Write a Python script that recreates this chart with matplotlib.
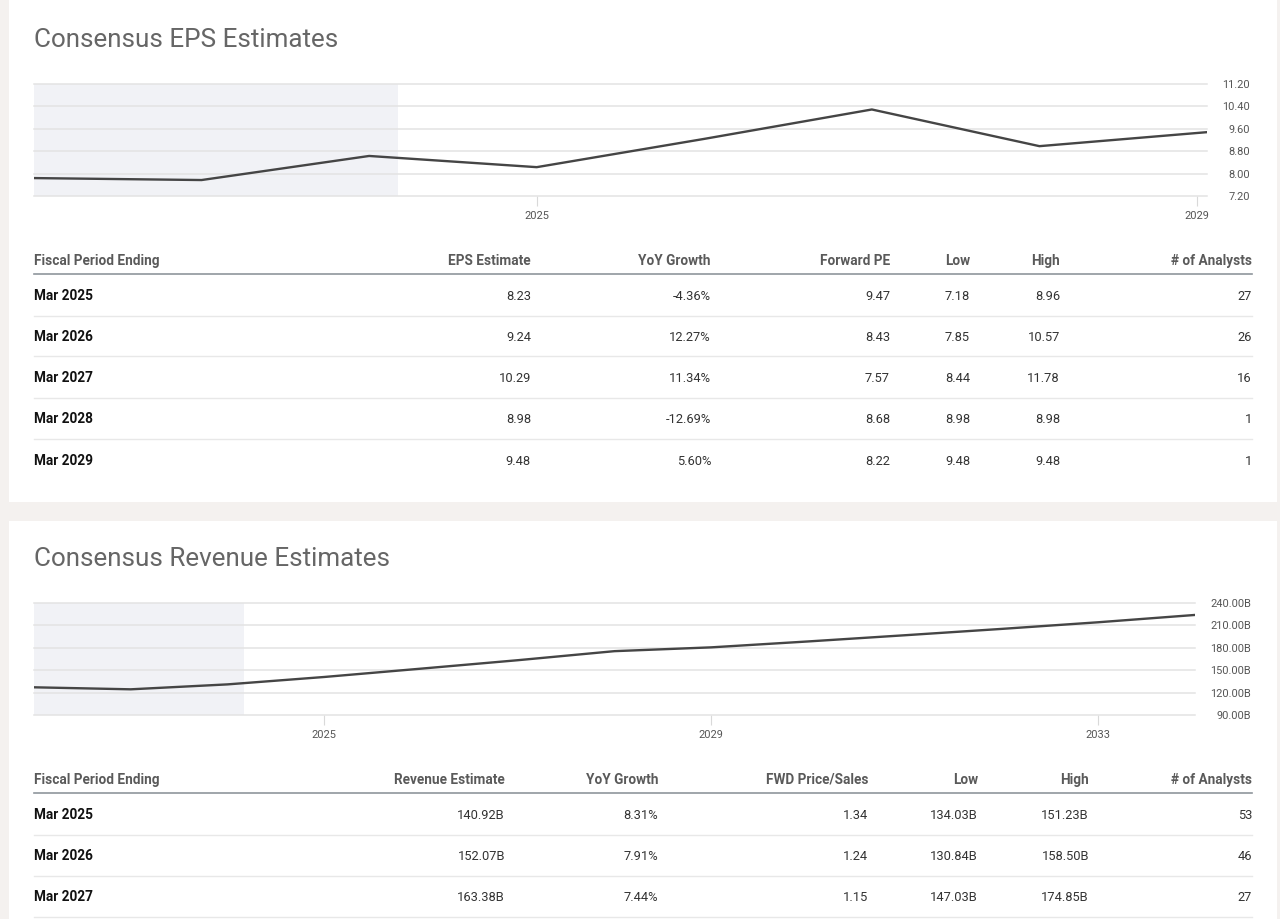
import matplotlib
matplotlib.use('Agg')
import matplotlib.pyplot as plt
from matplotlib.patches import Rectangle
from matplotlib.lines import Line2D

# ---------------- data ----------------
eps_years = [2022, 2023, 2024, 2025, 2026, 2027, 2028, 2029]
eps_values = [7.84, 7.77, 8.63, 8.23, 9.24, 10.29, 8.98, 9.48]
eps_yticks = [7.20, 8.00, 8.80, 9.60, 10.40, 11.20]
eps_ylabels = ["7.20", "8.00", "8.80", "9.60", "10.40", "11.20"]
eps_xticks = [2025, 2028.94]
eps_xlabels = ["2025", "2029"]

rev_years = [2022, 2023, 2024, 2025, 2026, 2027, 2028, 2029, 2030, 2031, 2032, 2033, 2034]
rev_values = [127.1, 124.4, 131.0, 140.92, 152.07, 163.38, 175.5, 180.6, 188.5, 196.8, 205.3, 214.2, 224.0]
rev_yticks = [90, 120, 150, 180, 210, 240]
rev_ylabels = ["90.00B", "120.00B", "150.00B", "180.00B", "210.00B", "240.00B"]
rev_xticks = [2025, 2029, 2033]
rev_xlabels = ["2025", "2029", "2033"]

history_end = 2024.17

eps_headers = ["Fiscal Period Ending", "EPS Estimate", "YoY Growth", "Forward PE", "Low", "High", "# of Analysts"]
eps_periods = ["Mar 2025", "Mar 2026", "Mar 2027", "Mar 2028", "Mar 2029"]
eps_estimate = ["8.23", "9.24", "10.29", "8.98", "9.48"]
eps_growth = ["-4.36%", "12.27%", "11.34%", "-12.69%", "5.60%"]
eps_fwd_pe = ["9.47", "8.43", "7.57", "8.68", "8.22"]
eps_low = ["7.18", "7.85", "8.44", "8.98", "9.48"]
eps_high = ["8.96", "10.57", "11.78", "8.98", "9.48"]
eps_analysts = ["27", "26", "16", "1", "1"]

rev_headers = ["Fiscal Period Ending", "Revenue Estimate", "YoY Growth", "FWD Price/Sales", "Low", "High", "# of Analysts"]
rev_periods = ["Mar 2025", "Mar 2026", "Mar 2027"]
rev_estimate = ["140.92B", "152.07B", "163.38B"]
rev_growth = ["8.31%", "7.91%", "7.44%"]
rev_fwd_ps = ["1.34", "1.24", "1.15"]
rev_low = ["134.03B", "130.84B", "147.03B"]
rev_high = ["151.23B", "158.50B", "174.85B"]
rev_analysts = ["53", "46", "27"]

# ---------------- layout helpers ----------------
W, H = 1280, 919
plt.rcParams['font.family'] = ['Roboto', 'DejaVu Sans']
fig = plt.figure(figsize=(12.8, 9.19), dpi=100, facecolor='#f4f1ef')


def fx(x):
    return x / W


def fy(y):
    return 1 - y / H


def axes_px(l, t, r, b):
    return fig.add_axes([l / W, 1 - b / H, (r - l) / W, (b - t) / H])


def panel(t, b):
    fig.add_artist(Rectangle((fx(9), fy(b)), (1277 - 9) / W, (b - t) / H,
                             transform=fig.transFigure, facecolor='white',
                             edgecolor='none', zorder=-5))


def hline(x0, x1, y, color, lw):
    fig.add_artist(Line2D([fx(x0), fx(x1)], [fy(y), fy(y)], transform=fig.transFigure,
                          color=color, lw=lw, zorder=2))


def label(x, y_center, s, size, ha='left', **kw):
    # place text so that its cap-height is centred on y_center (pixels from top)
    size_px = size * 100 / 72
    fig.text(fx(x), fy(y_center + 0.355 * size_px), s, ha=ha, va='baseline',
             fontsize=size, **kw)


panel(0, 502)
panel(521, 919)


def draw_chart(ax, years, values, ylim, yticks, ylabels, xticks, xlabels, pad_px):
    ax.set_facecolor('white')
    ax.axvspan(years[0], history_end, color='#f1f2f6', lw=0, zorder=0.1)
    ax.plot(years, values, color='#454545', lw=1.7, zorder=3, solid_capstyle='round')
    ax.set_xlim(years[0], years[-1])
    ax.set_ylim(*ylim)
    ax.yaxis.tick_right()
    ax.set_yticks(yticks)
    ax.set_yticklabels(ylabels, ha='right')
    ax.tick_params(axis='y', length=0, pad=pad_px * 0.72, labelsize=7.9, labelcolor='#555555')
    ax.set_xticks(xticks)
    ax.set_xticklabels(xlabels)
    ax.tick_params(axis='x', length=7, width=0.8, color='#d9d9d9', pad=3.5,
                   labelsize=7.9, labelcolor='#555555')
    ax.grid(axis='y', color='#e3e3e3', lw=1.1)
    ax.set_axisbelow(True)
    for s in ax.spines.values():
        s.set_visible(False)
    for gl in ax.get_ygridlines():
        gl.set_clip_on(False)


def draw_table(headers, columns, col_right, y_head, y_line, row_ys, sep_ys):
    label(34, y_head, headers[0], 9.8, fontweight='bold', color='#5a5a5a')
    for h, xr in zip(headers[1:], col_right):
        label(xr, y_head, h, 9.8, ha='right', fontweight='bold', color='#5a5a5a')
    hline(34, 1252, y_line, '#8f969c', 1.2)
    periods = columns[0]
    for i, y in enumerate(row_ys):
        label(34, y, periods[i], 9.8, fontweight='bold', color='#111111')
        for col, xr in zip(columns[1:], col_right):
            label(xr, y, col[i], 9.3, ha='right', color='#333333')
    for y in sep_ys:
        hline(34, 1252, y, '#e8e8e8', 1.0)


# ---------------- EPS panel ----------------
label(34, 38, "Consensus EPS Estimates", 18.7, color='#666666')
ax1 = axes_px(34, 84, 1207, 196)
draw_chart(ax1, eps_years, eps_values, (7.2, 11.2), eps_yticks, eps_ylabels,
           eps_xticks, eps_xlabels, 1250 - 1207)
draw_table(eps_headers,
           [eps_periods, eps_estimate, eps_growth, eps_fwd_pe, eps_low, eps_high, eps_analysts],
           [531, 711, 890, 970, 1060, 1252],
           260, 274, [295, 336, 377, 418, 460], [315.5, 356.5, 397.5, 439])

# ---------------- Revenue panel ----------------
label(34, 557, "Consensus Revenue Estimates", 18.7, color='#666666')
ax2 = axes_px(34, 603, 1195, 715)
draw_chart(ax2, rev_years, rev_values, (90, 240), rev_yticks, rev_ylabels,
           rev_xticks, rev_xlabels, 1251 - 1195)
draw_table(rev_headers,
           [rev_periods, rev_estimate, rev_growth, rev_fwd_ps, rev_low, rev_high, rev_analysts],
           [505, 658, 868, 978, 1089, 1252],
           779, 793, [814, 855, 896], [834.5, 875.5, 916.5])

fig.savefig('out.png', dpi=100, facecolor=fig.get_facecolor())
